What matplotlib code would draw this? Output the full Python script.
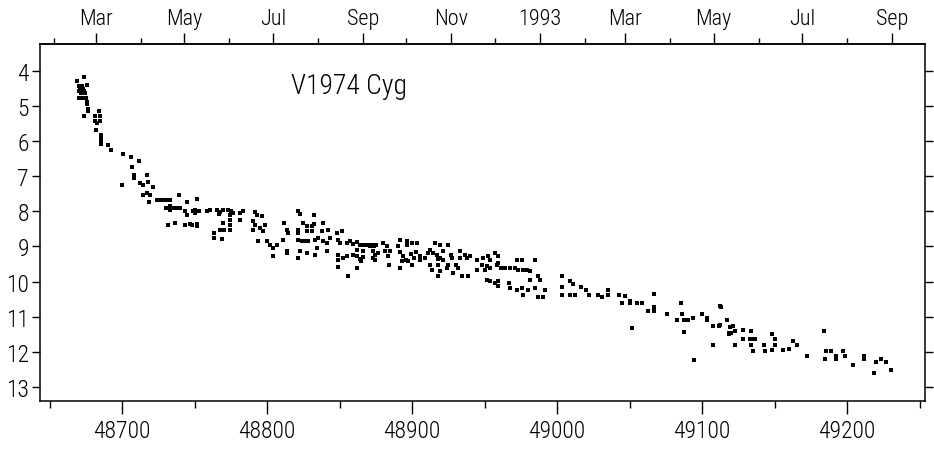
import matplotlib
matplotlib.use("Agg")
import matplotlib.pyplot as plt
from matplotlib.ticker import MultipleLocator, FixedLocator, NullFormatter
import numpy as np

plt.rcParams['font.family'] = ['Roboto Condensed', 'Liberation Sans Narrow', 'DejaVu Sans']
plt.rcParams['font.stretch'] = 'condensed'
plt.rcParams['font.weight'] = 'light'

# V1974 Cyg visual estimates (MJD, magnitude)
jd_early = [48674, 48669, 48676, 48670, 48671, 48672.5, 48674, 48670, 48671.5, 48674.5, 48673,
            48670, 48671, 48672.5, 48674, 48675, 48676, 48676, 48676.5, 48676.5, 48674,
            48684, 48681.5, 48681.5, 48685, 48685, 48683, 48682, 48685.5, 48685.5, 48685.5,
            48685.5, 48690, 48692.5, 48700.5, 48706, 48712, 48707, 48708, 48708, 48717,
            48700, 48712.5, 48714.5, 48718, 48721.5, 48714.5, 48717, 48719.5, 48718.5, 48739,
            48752, 48724, 48726, 48728.5, 48730.5, 48733, 48733, 48733, 48730.5, 48734.5,
            48737.5, 48740, 48745, 48743.5, 48745, 48749, 48753, 48758.5, 48731.5, 48736.5,
            48743.5, 48748, 48752]
mag_early = [4.17, 4.31, 4.40, 4.45, 4.51, 4.45, 4.57, 4.57, 4.65, 4.65, 4.51,
             4.79, 4.79, 4.79, 4.79, 4.79, 4.88, 4.96, 5.08, 5.16, 5.30,
             5.16, 5.30, 5.42, 5.30, 5.42, 5.50, 5.70, 5.84, 5.92, 6.01,
             6.09, 6.12, 6.26, 6.38, 6.46, 6.58, 6.75, 6.97, 7.06, 6.97,
             7.26, 7.20, 7.26, 7.17, 7.31, 7.54, 7.48, 7.54, 7.74, 7.54,
             7.65, 7.68, 7.68, 7.68, 7.68, 7.68, 7.85, 7.96, 7.91, 7.91,
             7.91, 7.91, 7.74, 7.99, 8.10, 7.99, 7.99, 7.99, 8.39, 8.33,
             8.39, 8.39, 8.42]

jd_mid = [48750.5, 48750.5, 48747, 48752, 48760.5, 48765.5, 48767.5, 48769.5, 48766.5, 48773,
          48775, 48776.5, 48774.5, 48774.5, 48774.5, 48774.5, 48769.5, 48767.5, 48770, 48763.5,
          48763.5, 48769, 48781.5, 48783.5, 48781.5, 48792, 48793, 48796.5, 48790, 48792,
          48795, 48798.5, 48790, 48797.5, 48794, 48800, 48802, 48807, 48804, 48804,
          48811, 48814, 48812, 48814, 48814.5, 48821, 48823, 48832.5, 48825, 48821.5,
          48821.5, 48827.5, 48827.5, 48831, 48831, 48832.5, 48838.5, 48838, 48842, 48821,
          48824, 48826, 48828, 48833, 48835, 48838.5, 48841.5, 48843.5, 48848.5, 48852,
          48849, 48850.5, 48823, 48821.5, 48827.5, 48833, 48834.5, 48841.5, 48814, 48855,
          48857.5, 48859.5, 48862, 48864, 48867, 48869.5, 48872.5, 48875, 48862, 48866,
          48873, 48876.5, 48849, 48849, 48852.5, 48855, 48859.5, 48862, 48864, 48866,
          48865, 48873, 48849, 48862, 48856]
mag_mid = [7.96, 8.05, 8.36, 8.36, 7.96, 7.96, 8.02, 7.96, 8.08, 7.96,
           7.99, 8.05, 8.10, 8.25, 8.39, 8.53, 8.33, 8.53, 8.53, 8.61,
           8.76, 8.78, 8.05, 7.99, 8.25, 8.02, 8.10, 8.13, 8.27, 8.39,
           8.47, 8.39, 8.53, 8.56, 8.84, 8.84, 8.95, 8.95, 9.04, 9.27,
           8.81, 9.12, 8.33, 8.53, 8.61, 7.99, 8.08, 8.10, 8.33, 8.53,
           8.61, 8.42, 8.56, 8.42, 8.56, 8.36, 8.33, 8.56, 8.53, 8.81,
           8.84, 8.84, 8.84, 8.81, 8.76, 8.84, 8.90, 8.76, 8.61, 8.56,
           8.81, 8.90, 9.12, 9.32, 9.18, 9.24, 9.04, 9.12, 9.18, 8.90,
           8.84, 8.93, 8.87, 8.95, 8.95, 8.95, 8.95, 8.95, 9.09, 9.12,
           9.12, 9.18, 9.24, 9.38, 9.32, 9.27, 9.24, 9.27, 9.35, 9.29,
           9.41, 9.32, 9.58, 9.60, 9.83]

jd_late = [48871, 48874, 48874.5, 48874.5, 48880, 48883, 48881.5, 48885, 48883.5, 48884,
           48892, 48890.5, 48896.5, 48896.5, 48900, 48903.5, 48892, 48894, 48896, 48899,
           48901, 48903, 48905.5, 48905.5, 48897.5, 48893, 48892, 48900, 48909, 48911,
           48916, 48919.5, 48925, 48912.5, 48914.5, 48917.5, 48919.5, 48921, 48918, 48921,
           48926.5, 48927.5, 48933, 48936.5, 48933, 48912.5, 48914, 48918, 48919.5, 48918,
           48924, 48925, 48930, 48932, 48934.5, 48938.5, 48928.5, 48938, 48940, 48945,
           48949, 48952.5, 48954, 48957.5, 48959.5, 48959.5, 48945, 48948.5, 48952, 48950.5,
           48954, 48958.5, 48961, 48964, 48967.5, 48971, 48973, 48976.5, 48979.5, 48981.5,
           48972.5, 48976, 48985, 48952, 48954, 48957.5, 48959.5, 48959.5, 48966.5, 48967.5,
           48972.5, 48976, 48976.5, 48980, 48985, 48987, 48988.5, 48981.5, 48987, 48992]
mag_late = [8.98, 8.98, 9.24, 9.38, 8.90, 8.98, 9.12, 9.12, 9.27, 9.52,
            8.81, 8.98, 8.95, 8.84, 8.90, 8.90, 9.15, 9.27, 9.38, 9.21,
            9.32, 9.15, 9.27, 9.38, 9.41, 9.41, 9.60, 9.52, 9.32, 9.18,
            8.90, 8.95, 8.95, 9.09, 9.18, 9.24, 9.32, 9.38, 9.35, 9.12,
            9.24, 9.32, 9.12, 9.24, 9.32, 9.52, 9.66, 9.52, 9.69, 9.83,
            9.60, 9.52, 9.52, 9.60, 9.83, 9.83, 9.75, 9.32, 9.27, 9.38,
            9.32, 9.27, 9.38, 9.18, 9.27, 9.46, 9.66, 9.52, 9.55, 9.66,
            9.60, 9.52, 9.60, 9.60, 9.60, 9.60, 9.66, 9.66, 9.66, 9.69,
            9.38, 9.38, 9.38, 9.94, 9.97, 10.03, 9.97, 10.11, 10.03, 10.17,
            10.23, 10.17, 10.37, 10.23, 10.17, 9.83, 9.94, 9.94, 10.45, 10.23]

jd_1993 = [48990, 49003.5, 49003.5, 49003.5, 49009, 49011, 49009, 49012.5, 49016.5, 49020,
           49022, 49028.5, 49031, 49035, 49035, 49043, 49047, 49045, 49050.5, 49050.5,
           49055, 49058.5, 49052, 49063, 49067, 49067, 49067, 49076, 49083, 49086,
           49087.5, 49090.5, 49094, 49085.5, 49087.5, 49094.5, 49100, 49103.5, 49103.5, 49107.5,
           49112, 49113, 49117.5, 49107.5, 49118.5, 49112.5, 49112.5, 49119.5, 49121.5, 49123,
           49120, 49118.5, 49128.5, 49128.5, 49134, 49133, 49135, 49136.5, 49134, 49135,
           49123, 49143, 49143.5, 49148.5, 49150.5, 49150.5, 49148.5, 49156, 49160, 49163,
           49165.5, 49172.5, 49184, 49185.5, 49189, 49185, 49192.5, 49192.5, 49197.5, 49198.5,
           49204, 49212, 49212, 49220, 49223.5, 49227, 49218.5, 49230.5]
mag_1993 = [10.45, 9.83, 10.14, 10.37, 9.97, 10.06, 10.37, 10.37, 10.14, 10.23,
            10.37, 10.37, 10.45, 10.23, 10.37, 10.37, 10.42, 10.62, 10.54, 10.62,
            10.62, 10.62, 11.33, 10.82, 10.82, 10.71, 10.34, 10.93, 11.10, 10.93,
            11.10, 11.10, 11.02, 10.62, 11.42, 12.24, 10.93, 11.02, 11.10, 11.25,
            11.25, 10.71, 11.10, 11.81, 11.45, 10.68, 11.22, 11.30, 11.25, 11.39,
            11.45, 11.50, 11.36, 11.64, 11.39, 11.64, 11.64, 11.64, 11.81, 11.98,
            11.81, 11.81, 11.98, 11.50, 11.64, 11.81, 11.93, 11.93, 11.90, 11.70,
            11.81, 12.12, 11.39, 11.98, 11.98, 12.21, 12.10, 12.21, 11.98, 12.12,
            12.38, 12.10, 12.21, 12.29, 12.21, 12.29, 12.60, 12.52]

# first day of each month, Feb 1992 .. Sep 1993, as MJD
month_mjd = [48653, 48682, 48713, 48743, 48774, 48804, 48835, 48866, 48896, 48927,
             48957, 48988, 49019, 49047, 49078, 49108, 49139, 49169, 49200, 49231]
month_lbl = ['Mar', 'May', 'Jul', 'Sep', 'Nov', '1993', 'Mar', 'May', 'Jul', 'Sep']

jd = np.concatenate([jd_early, jd_mid, jd_late, jd_1993])
mag = np.concatenate([mag_early, mag_mid, mag_late, mag_1993])

fig = plt.figure(figsize=(9.34, 4.52), dpi=100)
ax = fig.add_axes([0.043, 0.11, 0.947, 0.79])

ax.plot(jd, mag, 's', color='black', ms=2.4, mec='black', mew=0)

ax.set_xlim(48643.5, 49253.5)
ax.set_ylim(13.4, 3.25)

ax.xaxis.set_major_locator(MultipleLocator(100))
ax.xaxis.set_minor_locator(MultipleLocator(50))
ax.yaxis.set_major_locator(MultipleLocator(1))
ax.tick_params(axis='x', which='major', direction='out', length=9, width=1, pad=4, labelsize=17)
ax.tick_params(axis='x', which='minor', direction='out', length=5, width=1)
ax.tick_params(axis='y', which='major', direction='out', length=6, width=1, pad=2, labelsize=17,
               right=True)

top = ax.secondary_xaxis('top')
top.xaxis.set_major_locator(FixedLocator(month_mjd[1::2]))
top.xaxis.set_minor_locator(FixedLocator(month_mjd[0::2]))
top.set_xticklabels(month_lbl)
top.tick_params(axis='x', which='major', direction='out', length=8, width=1, pad=3, labelsize=16)
top.tick_params(axis='x', which='minor', direction='out', length=4, width=1)

for s in ax.spines.values():
    s.set_linewidth(1.1)
top.spines['top'].set_linewidth(1.1)

ax.text(0.349, 0.885, 'V1974 Cyg', transform=ax.transAxes, ha='center', va='center', fontsize=20)

fig.savefig('out.png', dpi=100)
